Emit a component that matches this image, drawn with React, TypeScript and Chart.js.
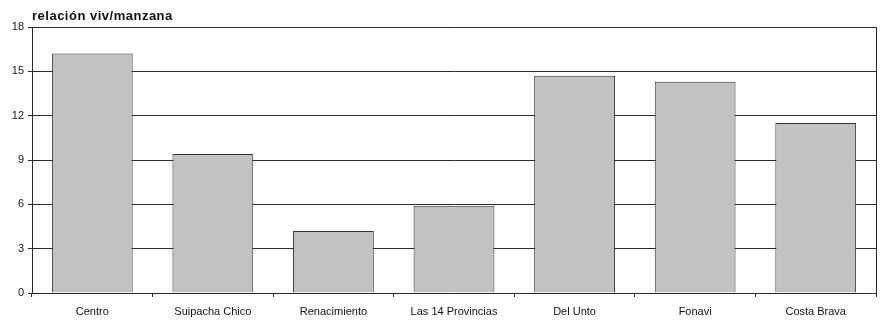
import React, { useEffect, useRef } from "react";
import { Chart, registerables } from "chart.js";

Chart.register(...registerables);

const categories = ["Centro", "Suipacha Chico", "Renacimiento", "Las 14 Provincias", "Del Unto", "Fonavi", "Costa Brava"];
const values = [16.2, 9.4, 4.2, 5.9, 14.7, 14.3, 11.5];
const yTicks = [0, 3, 6, 9, 12, 15, 18];
const titleText = "relación viv/manzana";

const FONT = "'Liberation Sans', Arial, sans-serif";

const framePlugin = {
  id: "frame",
  afterDraw(chart: any) {
    const { ctx, chartArea } = chart;
    ctx.save();
    ctx.strokeStyle = "#2a2a2a";
    ctx.lineWidth = 1;
    ctx.beginPath();
    ctx.moveTo(Math.round(chartArea.right) + 0.5, chartArea.top);
    ctx.lineTo(Math.round(chartArea.right) + 0.5, chartArea.bottom);
    ctx.stroke();
    ctx.fillStyle = "#111111";
    ctx.font = `bold 13px ${FONT}`;
    ctx.textBaseline = "alphabetic";
    ctx.textAlign = "left";
    try {
      (ctx as any).letterSpacing = "0.5px";
    } catch (e) {}
    ctx.fillText(titleText, chartArea.left, 20);
    ctx.restore();
  },
};

export default function App() {
  const ref = useRef<HTMLCanvasElement>(null);
  useEffect(() => {
    if (!ref.current) return;
    const chart = new Chart(ref.current, {
      type: "bar",
      data: {
        labels: categories,
        datasets: [
          {
            data: values,
            backgroundColor: "#c2c2c2",
            borderColor: "#333333",
            borderWidth: 1,
            barPercentage: 0.67,
            categoryPercentage: 1,
          },
        ],
      },
      options: {
        responsive: false,
        animation: false,
        layout: { padding: { top: 27, right: 8, left: 0, bottom: 0 } },
        plugins: { legend: { display: false }, tooltip: { enabled: false }, title: { display: false } },
        scales: {
          x: {
            grid: { display: true, drawOnChartArea: false, drawTicks: true, tickLength: 4, color: "#2a2a2a", offset: true },
            border: { display: true, color: "#2a2a2a", width: 1 },
            ticks: { color: "#111111", font: { family: FONT, size: 11 }, padding: 8, maxRotation: 0, autoSkip: false },
            afterFit(scale: any) {
              scale.height = 29;
            },
          },
          y: {
            min: 0,
            max: 18,
            afterBuildTicks(scale: any) {
              scale.ticks = yTicks.map((v) => ({ value: v }));
            },
            grid: { color: "#2a2a2a", lineWidth: 1, tickLength: 4, drawTicks: true },
            border: { display: true, color: "#2a2a2a", width: 1 },
            ticks: { color: "#111111", font: { family: FONT, size: 11 }, padding: 4 },
            afterFit(scale: any) {
              scale.width = 32;
            },
          },
        },
      },
      plugins: [framePlugin],
    });
    return () => chart.destroy();
  }, []);
  return (
    <div style={{ position: "fixed", left: 0, top: 0, width: 884, height: 322, background: "#ffffff" }}>
      <canvas ref={ref} width={884} height={322} style={{ width: 884, height: 322 }} />
    </div>
  );
}
